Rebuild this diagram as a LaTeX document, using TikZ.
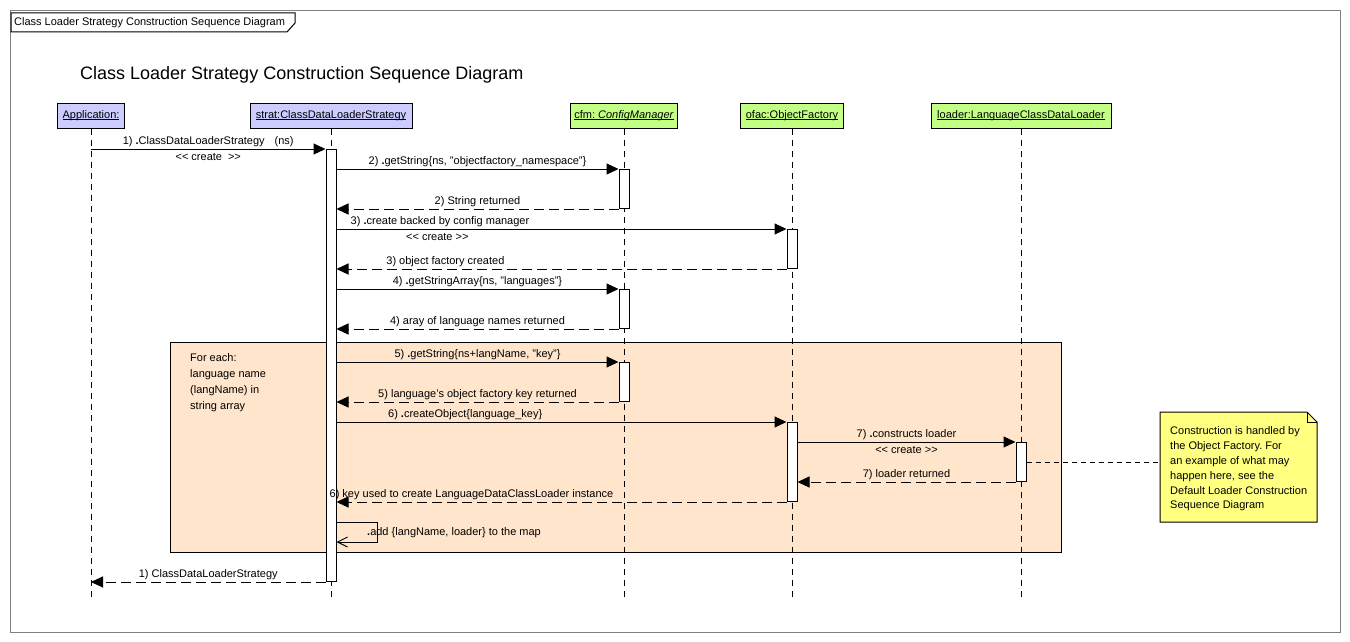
\documentclass[tikz,border=0pt]{standalone}
\usepackage{fontspec}
\setmainfont{Liberation Sans}
\usetikzlibrary{arrows.meta,calc}
\definecolor{headblue}{HTML}{CCCCFF}
\definecolor{headgreen}{HTML}{C2FF84}
\definecolor{loopfill}{HTML}{FFE5CC}
\definecolor{notefill}{HTML}{FFFF80}
\definecolor{framegray}{HTML}{808080}
\newcommand\mydot{\textbf{.}}
\newcommand\stlt{<\kern0pt<}
\newcommand\stgt{>\kern0pt>}
\newcommand\hdul[1]{\setbox0\hbox{#1}\leavevmode\rlap{\rule[-2pt]{\wd0}{0.9pt}}\box0}
\frenchspacing
\begin{document}
\begin{tikzpicture}[x=1pt,y=-1pt,
  lbl/.style={font=\fontsize{11}{13}\selectfont, inner sep=2pt},
  lblb/.style={lbl, inner sep=4pt},
  lifehead/.style={draw, line width=1pt, minimum height=25pt, inner sep=0pt, font=\fontsize{11}{13}\selectfont},
  lifeline/.style={line width=1pt, dash pattern=on 6pt off 5pt},
  actbar/.style={draw, fill=white, line width=1pt, minimum width=10pt, inner sep=0pt, anchor=north},
  msg/.style={line width=1pt, -{Triangle[length=12pt,width=11pt]}},
  ret/.style={msg, dash pattern=on 10pt off 5pt},
  selfmsg/.style={line width=1pt, -{Straight Barb[length=10pt,width=10pt]}},
  notelink/.style={line width=1pt, dash pattern=on 5pt off 4pt}
]
\useasboundingbox (0,0) rectangle (1350,642);
\fill[white] (0,0) rectangle (1350,642);
% frame
\draw[framegray, line width=1pt] (10.5,10.5) rectangle (1340.5,632.5);
\filldraw[fill=white, line width=1pt] (11,13) -- (295,13) -- (295,23) -- (287,32) -- (11,32) -- cycle;
\node[anchor=west, font=\fontsize{11}{13}\selectfont, inner sep=0pt] (tab) at (14,22.5) {Class Loader Strategy Construction Sequence Diagram};
% title
\node[anchor=west, font=\fontsize{18}{22}\selectfont, inner sep=0pt] (title) at (80,75) {Class Loader Strategy Construction Sequence Diagram};
% loop fragment
\node[draw, fill=loopfill, line width=1pt, minimum width=891pt, minimum height=210pt, anchor=north west, inner sep=0pt] (loop) at (170,342) {};
\node[anchor=north west, align=left, font=\fontsize{11}{16}\selectfont, inner sep=0pt] (looptxt) at (190,353) {For each:\\language name\\(langName) in\\string array};
% heads
\node[lifehead, fill=headblue, minimum width=67pt] (app) at (91,115.5) {\hdul{Application:}};
\node[lifehead, fill=headblue, minimum width=162pt] (strat) at (331,115.5) {\hdul{strat:ClassDataLoaderStrategy}};
\node[lifehead, fill=headgreen, minimum width=107pt] (cfm) at (624,115.5) {\hdul{cfm: \textit{ConfigManager}}};
\node[lifehead, fill=headgreen, minimum width=103pt] (ofac) at (792,115.5) {\hdul{ofac:ObjectFactory}};
\node[lifehead, fill=headgreen, minimum width=180pt] (loader) at (1021,115.5) {\hdul{loader:LanguageClassDataLoader}};
% lifelines
\coordinate (lend) at (0,597);
\draw[lifeline] (app.south) -- (app.south |- lend);
\draw[lifeline] (strat.south) -- (strat.south |- lend);
\draw[lifeline] (cfm.south) -- (cfm.south |- lend);
\draw[lifeline] (ofac.south) -- (ofac.south |- lend);
\draw[lifeline] (loader.south) -- (loader.south |- lend);
% activation bars
\node[actbar, minimum height=432pt] (sact) at (331,149) {};
\node[actbar, minimum height=39pt] (c2) at (624,169) {};
\node[actbar, minimum height=39pt] (o3) at (792,229) {};
\node[actbar, minimum height=39pt] (c4) at (624,289) {};
\node[actbar, minimum height=39pt] (c5) at (624,362) {};
\node[actbar, minimum height=79pt] (o6) at (792,422) {};
\node[actbar, minimum height=39pt] (l7) at (1021,442) {};
% messages
\draw[msg] (app.south |- sact.north) -- node[lbl, above] {1) \mydot ClassDataLoaderStrategy\hspace{10pt}(ns)} node[lblb, below] {\stlt{} create\hspace{6pt}\stgt} (sact.north west);
\draw[msg] (sact.east |- c2.north) -- node[lbl, above] {2) \mydot getString\{ns, "objectfactory\_namespace"\}} (c2.north west);
\draw[ret] (c2.south west) -- node[lbl, above] {2) String returned} (sact.east |- c2.south);
\draw[msg] (sact.east |- o3.north) -- node[lbl, above, pos=0.23] {3) \mydot create backed by config manager} node[lblb, below, pos=0.224] {\stlt{} create \stgt} (o3.north west);
\draw[ret] (o3.south west) -- node[lbl, above, pos=0.758] {3) object factory created} (sact.east |- o3.south);
\draw[msg] (sact.east |- c4.north) -- node[lbl, above] {4) \mydot getStringArray\{ns, "languages"\}} (c4.north west);
\draw[ret] (c4.south west) -- node[lbl, above] {4) aray of language names returned} (sact.east |- c4.south);
\draw[msg] (sact.east |- c5.north) -- node[lbl, above] {5) \mydot getString\{ns+langName, "key"\}} (c5.north west);
\draw[ret] (c5.south west) -- node[lbl, above] {5) language's object factory key returned} (sact.east |- c5.south);
\draw[msg] (sact.east |- o6.north) -- node[lbl, above, pos=0.286] {6) \mydot createObject\{language\_key\}} (o6.north west);
\draw[msg] (o6.east |- l7.north) -- node[lbl, above] {7) \mydot constructs loader} node[lblb, below] {\stlt{} create \stgt} (l7.north west);
\draw[ret] (l7.south west) -- node[lbl, above] {7) loader returned} (o6.east |- l7.south);
\draw[ret] (o6.south west) -- node[lbl, above, pos=0.70] {6) key used to create LanguageDataClassLoader instance} (sact.east |- o6.south);
% self message
\coordinate (sy1) at (0,522);
\coordinate (sy2) at (0,542);
\draw[selfmsg] (sact.east |- sy1) -- ++(41,0) |- (sact.east |- sy2);
\node[lbl, anchor=west, inner sep=0pt] (selflbl) at (367,533) {\mydot add \{langName, loader\} to the map};
% return 1
\draw[ret] (sact.south west) -- node[lbl, above] {1) ClassDataLoaderStrategy} (app.south |- sact.south);
% note
\filldraw[fill=notefill, line width=1pt] (1160,412) -- (1307,412) -- (1317,422) -- (1317,522) -- (1160,522) -- cycle;
\draw[line width=1pt] (1307,412) |- (1317,422);
\node[anchor=west, align=left, inner xsep=10pt, inner ysep=0pt, font=\fontsize{11}{14.8}\selectfont] (note) at (1160,469) {Construction is handled by\\the Object Factory. For\\an example of what may\\happen here, see the\\Default Loader Construction\\Sequence Diagram};
\draw[notelink] (l7.east) -- (l7.east -| note.west);
\end{tikzpicture}
\end{document}
